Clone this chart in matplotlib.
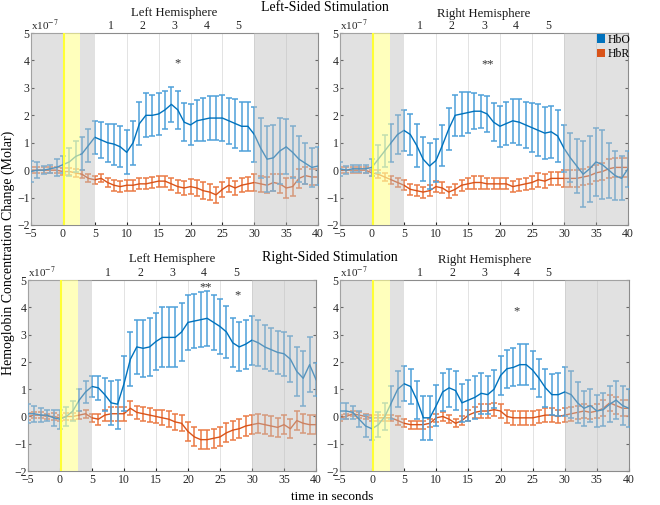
import numpy as np
import matplotlib
matplotlib.use('Agg')
import matplotlib.pyplot as plt
from matplotlib.patches import Patch

plt.rcParams['font.family'] = ['Liberation Serif', 'DejaVu Serif']
plt.rcParams['mathtext.fontset'] = 'stix'

# time axis (seconds), one sample per second
t = np.arange(-5, 41)

# mean / error values (units of 1e-7 Molar)
# Left-sided stimulation, left hemisphere
ll_hbo = [-0.05, 0.0, 0.0, 0.05, 0.1, 0.2, 0.3, 0.5, 0.6, 0.9, 1.2, 1.1, 1.0, 0.95, 0.85, 0.65,
          1.0, 1.7, 2.0, 2.0, 2.05, 2.2, 2.4, 2.2, 1.75, 1.65, 1.8, 1.85, 1.9, 1.9, 1.9,
          1.8, 1.7, 1.6, 1.6, 1.3, 0.8, 0.4, 0.45, 0.7, 0.85, 0.65, 0.4, 0.25, 0.1, 0.15]
ll_hbo_err = [0.4, 0.3, 0.15, 0.15, 0.3, 0.3, 0.5, 0.55, 0.6, 0.6, 0.6, 0.65, 0.7, 0.75, 0.75, 0.8,
              0.8, 0.8, 0.8, 0.75, 0.75, 0.7, 0.65, 0.7, 0.7, 0.75, 0.75, 0.8, 0.8, 0.8, 0.85,
              0.85, 0.9, 0.9, 0.9, 1.0, 1.1, 1.2, 1.2, 1.2, 1.0, 0.95, 0.85, 0.75, 0.7, 0.7]
ll_hbr = [0.0, 0.0, 0.0, 0.0, 0.0, -0.05, -0.05, -0.1, -0.15, -0.3, -0.35, -0.3, -0.45, -0.55, -0.6, -0.55,
          -0.55, -0.5, -0.5, -0.45, -0.4, -0.4, -0.5, -0.6, -0.65, -0.6, -0.65, -0.75, -0.8, -0.9, -0.7,
          -0.55, -0.65, -0.55, -0.5, -0.45, -0.5, -0.55, -0.45, -0.5, -0.65, -0.6, -0.3, -0.2, -0.25, -0.25]
ll_hbr_err = [0.12, 0.1, 0.1, 0.1, 0.1, 0.12, 0.12, 0.15, 0.15, 0.15, 0.15, 0.15, 0.18, 0.2, 0.2, 0.2,
              0.2, 0.2, 0.2, 0.2, 0.2, 0.2, 0.22, 0.25, 0.25, 0.28, 0.3, 0.3, 0.3, 0.3, 0.28,
              0.25, 0.25, 0.25, 0.25, 0.3, 0.3, 0.3, 0.3, 0.35, 0.35, 0.35, 0.35, 0.3, 0.3, 0.3]

# Left-sided stimulation, right hemisphere
lr_hbo = [0.05, 0.0, 0.05, 0.05, 0.05, 0.1, 0.4, 0.7, 1.0, 1.3, 1.45, 1.3, 0.9, 0.4, 0.15, 0.35,
          0.9, 1.5, 2.0, 2.05, 2.1, 2.15, 2.15, 2.05, 1.75, 1.6, 1.7, 1.8, 1.75, 1.65, 1.55,
          1.45, 1.35, 1.4, 1.25, 0.8, 0.45, 0.15, -0.15, 0.05, 0.3, 0.2, 0.0, -0.2, -0.3, 0.05]
lr_hbo_err = [0.25, 0.15, 0.12, 0.12, 0.15, 0.3, 0.5, 0.6, 0.7, 0.7, 0.75, 0.75, 0.8, 0.8, 0.85, 0.8,
              0.75, 0.75, 0.75, 0.8, 0.75, 0.65, 0.6, 0.65, 0.7, 0.75, 0.8, 0.8, 0.85, 0.85, 0.9,
              0.95, 0.95, 0.95, 0.95, 0.85, 0.9, 1.0, 1.2, 1.2, 1.25, 1.25, 1.0, 0.9, 0.8, 0.65]
lr_hbr = [0.0, 0.0, 0.0, 0.0, 0.0, -0.1, -0.15, -0.25, -0.35, -0.45, -0.55, -0.7, -0.75, -0.8, -0.75, -0.6,
          -0.65, -0.8, -0.7, -0.55, -0.5, -0.45, -0.45, -0.5, -0.5, -0.5, -0.5, -0.6, -0.55, -0.5, -0.45,
          -0.35, -0.4, -0.3, -0.3, -0.3, -0.3, -0.3, -0.25, -0.2, -0.1, -0.05, 0.05, 0.1, 0.1, 0.1]
lr_hbr_err = [0.1, 0.1, 0.1, 0.1, 0.1, 0.12, 0.15, 0.15, 0.15, 0.15, 0.18, 0.2, 0.2, 0.2, 0.2, 0.2,
              0.2, 0.2, 0.2, 0.2, 0.2, 0.22, 0.22, 0.2, 0.2, 0.2, 0.2, 0.2, 0.22, 0.22, 0.25,
              0.25, 0.25, 0.25, 0.25, 0.3, 0.3, 0.3, 0.3, 0.3, 0.3, 0.3, 0.35, 0.35, 0.35, 0.35]

# Right-sided stimulation, left hemisphere
rl_hbo = [0.1, 0.1, 0.05, 0.05, -0.05, -0.1, 0.0, 0.2, 0.6, 0.9, 1.1, 1.05, 0.8, 0.5, 0.45, 1.2,
          2.1, 2.55, 2.5, 2.55, 2.75, 2.9, 2.9, 2.9, 3.1, 3.45, 3.5, 3.55, 3.6, 3.45, 3.3,
          3.1, 2.7, 2.55, 2.65, 2.8, 2.7, 2.55, 2.45, 2.35, 2.3, 2.1, 1.65, 1.4, 1.9, 1.35]
rl_hbo_err = [0.35, 0.3, 0.25, 0.2, 0.3, 0.35, 0.35, 0.35, 0.4, 0.4, 0.4, 0.45, 0.6, 0.8, 0.9, 1.0,
              1.0, 1.0, 1.05, 1.05, 1.05, 1.1, 1.1, 1.1, 1.05, 1.0, 1.0, 1.0, 1.0, 1.0, 1.0,
              0.95, 0.9, 0.9, 0.9, 0.9, 0.85, 0.8, 0.8, 0.8, 0.8, 0.85, 0.9, 1.0, 1.0, 0.6]
rl_hbr = [0.0, 0.05, 0.05, 0.0, 0.0, -0.05, 0.0, 0.0, 0.05, 0.1, -0.05, -0.1, 0.05, 0.1, 0.1, 0.1,
          0.3, 0.15, 0.1, 0.05, 0.0, -0.05, -0.1, -0.2, -0.25, -0.55, -0.75, -0.85, -0.85, -0.8, -0.75,
          -0.6, -0.5, -0.45, -0.35, -0.3, -0.25, -0.3, -0.35, -0.4, -0.3, -0.45, -0.15, -0.25, -0.3, -0.3]
rl_hbr_err = [0.12, 0.1, 0.1, 0.1, 0.12, 0.12, 0.12, 0.12, 0.15, 0.15, 0.15, 0.2, 0.2, 0.25, 0.25, 0.25,
              0.25, 0.25, 0.25, 0.25, 0.25, 0.28, 0.3, 0.3, 0.3, 0.35, 0.35, 0.35, 0.35, 0.35, 0.35,
              0.35, 0.35, 0.35, 0.35, 0.35, 0.35, 0.35, 0.35, 0.35, 0.35, 0.35, 0.35, 0.35, 0.35, 0.35]

# Right-sided stimulation, right hemisphere
rr_hbo = [0.2, 0.2, 0.15, -0.1, -0.35, -0.45, -0.3, 0.0, 0.5, 1.0, 1.2, 1.1, 0.6, -0.05, -0.05, 0.4,
          0.9, 1.05, 0.95, 0.5, 0.6, 0.7, 0.85, 0.8, 1.0, 1.5, 1.75, 1.8, 1.9, 1.9, 1.7,
          1.4, 1.05, 0.8, 0.8, 0.9, 0.8, 0.5, 0.3, 0.4, 0.2, 0.25, 0.45, 0.6, 0.4, 0.3]
rr_hbo_err = [0.3, 0.3, 0.25, 0.3, 0.4, 0.4, 0.45, 0.5, 0.6, 0.65, 0.65, 0.65, 0.7, 0.8, 0.8, 0.75,
              0.7, 0.7, 0.7, 0.7, 0.75, 0.8, 0.75, 0.7, 0.7, 0.7, 0.7, 0.7, 0.75, 0.75, 0.7,
              0.7, 0.7, 0.75, 0.8, 0.9, 0.85, 0.75, 0.65, 0.6, 0.6, 0.6, 0.65, 0.7, 0.7, 0.7]
rr_hbr = [-0.05, 0.0, 0.1, 0.05, 0.0, -0.05, -0.05, -0.05, -0.05, -0.15, -0.25, -0.3, -0.3, -0.3, -0.25, -0.05,
          0.0, -0.1, -0.25, -0.15, 0.05, 0.15, 0.2, 0.2, 0.25, 0.2, 0.0, -0.05, -0.05, -0.05, -0.05,
          0.0, 0.05, 0.05, 0.0, 0.05, 0.1, 0.15, 0.2, 0.15, 0.2, 0.3, 0.5, 0.4, 0.3, 0.3]
rr_hbr_err = [0.1, 0.1, 0.1, 0.1, 0.1, 0.1, 0.1, 0.12, 0.12, 0.15, 0.15, 0.15, 0.15, 0.15, 0.15, 0.15,
              0.15, 0.15, 0.15, 0.15, 0.2, 0.2, 0.25, 0.25, 0.25, 0.25, 0.25, 0.25, 0.25, 0.25, 0.25,
              0.25, 0.25, 0.25, 0.25, 0.25, 0.25, 0.25, 0.25, 0.25, 0.25, 0.3, 0.3, 0.3, 0.3, 0.3]

# significance markers (x, y, text)
stars_ll = [(18.0, 3.9, '*')]
stars_lr = [(18.0, 3.85, '**')]
stars_rl = [(22.8, 4.75, '**'), (27.8, 4.45, '*')]
stars_rr = [(22.5, 3.85, '*')]

window_pos = [7.5, 12.5, 17.5, 22.5, 27.5]
window_lbl = ['1', '2', '3', '4', '5']

blue = '#0072BD'
blue_bar = '#4EA0DA'
orange = '#D95319'
orange_bar = '#EB7A45'

fig = plt.figure(figsize=(6.6, 5.05), dpi=100)
axes = [fig.add_axes([0.047, 0.5545, 0.435, 0.380]),
        fig.add_axes([0.515, 0.5545, 0.4365, 0.380]),
        fig.add_axes([0.0424, 0.0673, 0.4364, 0.378]),
        fig.add_axes([0.515, 0.0673, 0.438, 0.378])]
panels = [(ll_hbo, ll_hbo_err, ll_hbr, ll_hbr_err, stars_ll, 'Left Hemisphere', 1.105),
          (lr_hbo, lr_hbo_err, lr_hbr, lr_hbr_err, stars_lr, 'Right Hemisphere', 1.10),
          (rl_hbo, rl_hbo_err, rl_hbr, rl_hbr_err, stars_rl, 'Left Hemisphere', 1.112),
          (rr_hbo, rr_hbo_err, rr_hbr, rr_hbr_err, stars_rr, 'Right Hemisphere', 1.107)]

for ax, (hbo, hbo_e, hbr, hbr_e, stars, ttl, ty) in zip(axes, panels):
    for xv in range(10, 40, 5):
        ax.axvline(xv, color='#E3E3E3', lw=0.7, zorder=0)
    for y, e, c, cb, z in [(hbr, hbr_e, orange, orange_bar, 2), (hbo, hbo_e, blue, blue_bar, 3)]:
        line, caps, bars = ax.errorbar(t, y, yerr=e, color=c, ecolor=cb, lw=1.0,
                                       elinewidth=1.1, capsize=2.4, capthick=1.1, zorder=z)
        for cp in caps:
            cp.set_color(c)
    # shaded periods on top
    ax.axvspan(-5, 0, color='#BDBDBD', alpha=0.45, lw=0, zorder=5)
    ax.axvspan(2.75, 5, color='#BDBDBD', alpha=0.45, lw=0, zorder=5)
    ax.axvspan(30, 40, color='#BDBDBD', alpha=0.45, lw=0, zorder=5)
    ax.axvspan(0, 2.75, color='#FFFF99', alpha=0.65, lw=0, zorder=5)
    ax.axvline(0.1, color='#FFFF33', lw=1.5, zorder=6)
    for sx, sy, s in stars:
        ax.text(sx, sy, s, ha='center', va='center', fontsize=9, color='#333333', zorder=7)

    ax.set_xlim(-5, 40)
    ax.set_ylim(-2, 5)
    ax.set_xticks(range(-5, 41, 5))
    ax.set_yticks(range(-2, 6))
    ax.tick_params(direction='in', length=2.5, labelsize=8.5, colors='#262626', pad=1,
                   top=False, right=True)
    ax.tick_params(axis='x', pad=2)
    for sp in ax.spines.values():
        sp.set_color('#8C8C8C')
        sp.set_linewidth(0.8)
    ax.text(0.0, 1.0, r'x10$^{-7}$', transform=ax.transAxes, ha='left', va='bottom',
            fontsize=8, color='#262626')

    top = ax.secondary_xaxis('top')
    top.set_xticks(window_pos)
    top.set_xticklabels(window_lbl)
    top.tick_params(length=0, labelsize=8.5, pad=1, colors='#262626')
    top.spines['top'].set_visible(False)
    ax.text(0.5, ty, ttl, transform=ax.transAxes, ha='center', va='center',
            fontsize=9.2, color='#1a1a1a')

fig.text(0.493, 0.986, 'Left-Sided Stimulation', ha='center', va='center', fontsize=10)
fig.text(0.5, 0.491, 'Right-Sided Stimulation', ha='center', va='center', fontsize=10)
fig.text(0.013, 0.5, 'Hemoglobin Concentration Change (Molar)', rotation=90,
         ha='center', va='center', fontsize=10)
fig.text(0.503, 0.016, 'time in seconds', ha='center', va='center', fontsize=9.5)

handles = [Patch(facecolor=blue, edgecolor='none'), Patch(facecolor=orange, edgecolor='none')]
fig.legend(handles, ['HbO', 'HbR'], loc='upper left', bbox_to_anchor=(0.897, 0.943),
           frameon=False, handlelength=0.7, handleheight=0.7, handletextpad=0.2,
           labelspacing=0.25, fontsize=8.5, borderaxespad=0)

fig.savefig('out.png', dpi=100)
